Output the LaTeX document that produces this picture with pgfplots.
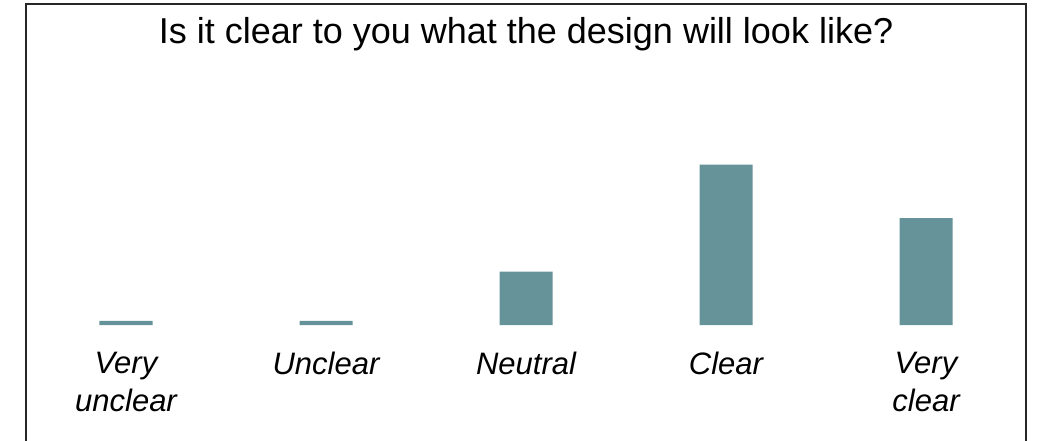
\documentclass[border=0pt]{standalone}
\usepackage{pgfplots}
\pgfplotsset{compat=1.18}
\usepackage{fontspec}
\setmainfont{Liberation Sans}
\definecolor{barc}{RGB}{102,147,153}
\begin{document}
\begin{tikzpicture}
% 1 px of the reference = 0.5pt; origin = bottom-left of the plot area
\path[use as bounding box] (-13pt,-57.5pt) rectangle (506.5pt,162.5pt);
\begin{axis}[
at={(0pt,0pt)}, anchor=south west,
scale only axis,
width=500pt, height=160.5pt,
xmin=-0.5, xmax=4.5,
ymin=0, ymax=6,
axis line style={draw=none},
ymajorticks=false,
major tick length=0pt,
xtick={0,1,2,3,4},
xticklabels={{Very\\unclear},Unclear,Neutral,Clear,{Very\\clear}},
xticklabel style={font=\itshape\fontsize{15.5}{19}\selectfont, align=center, anchor=north, yshift=-10pt},
title={Is it clear to you what the design will look like?},
title style={font=\fontsize{18}{22}\selectfont, at={(0.5,1)}, anchor=base, yshift=-25.5pt},
ybar, bar width=26.5pt,
]
\addplot[fill=barc, draw=none] coordinates {
(0,0.075)
(1,0.075)
(2,1)
(3,3)
(4,2)
};
\end{axis}
\draw[line width=0.75pt, black!85] (0pt,-70pt) -- (0pt,160.5pt) -- (500pt,160.5pt) -- (500pt,-70pt);
\end{tikzpicture}
\end{document}
